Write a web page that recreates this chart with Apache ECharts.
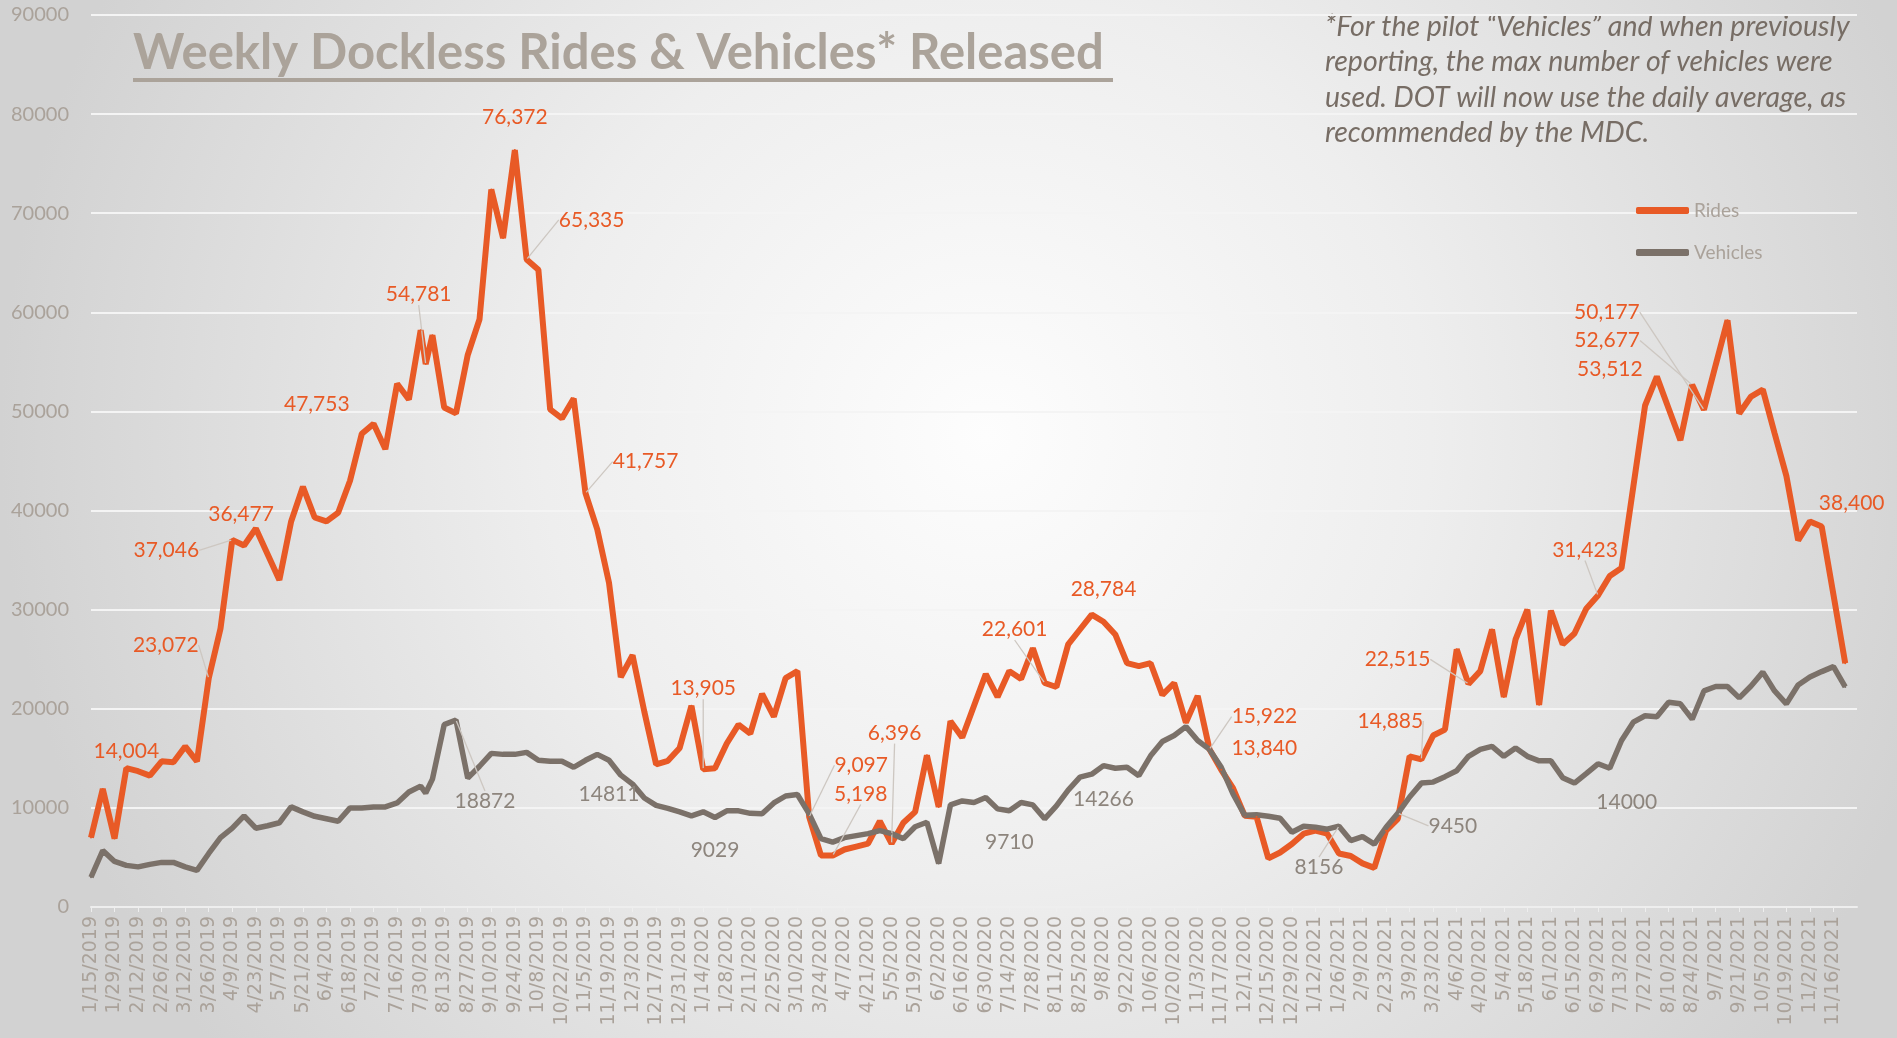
<!DOCTYPE html>
<html>
<head>
<meta charset="utf-8">
<script src="https://cdn.jsdelivr.net/npm/echarts@6/dist/echarts.min.js"></script>
<style>
  html, body { margin: 0; padding: 0; }
  #main { width: 1897px; height: 1038px; }
</style>
</head>
<body>
<div id="main"></div>
<script>
// weekly dates (plus one mid-week report on 8/2/2019)
var dates = [
  '1/15/2019','1/22/2019','1/29/2019','2/5/2019','2/12/2019','2/19/2019','2/26/2019','3/5/2019','3/12/2019','3/19/2019',
  '3/26/2019','4/2/2019','4/9/2019','4/16/2019','4/23/2019','4/30/2019','5/7/2019','5/14/2019','5/21/2019','5/28/2019',
  '6/4/2019','6/11/2019','6/18/2019','6/25/2019','7/2/2019','7/9/2019','7/16/2019','7/23/2019','7/30/2019','8/2/2019',
  '8/6/2019','8/13/2019','8/20/2019','8/27/2019','9/3/2019','9/10/2019','9/17/2019','9/24/2019','10/1/2019','10/8/2019',
  '10/15/2019','10/22/2019','10/29/2019','11/5/2019','11/12/2019','11/19/2019','11/26/2019','12/3/2019','12/10/2019','12/17/2019',
  '12/24/2019','12/31/2019',
  '1/7/2020','1/14/2020','1/21/2020','1/28/2020','2/4/2020','2/11/2020','2/18/2020','2/25/2020','3/3/2020','3/10/2020',
  '3/17/2020','3/24/2020','3/31/2020','4/7/2020','4/14/2020','4/21/2020','4/28/2020','5/5/2020','5/12/2020','5/19/2020',
  '5/26/2020','6/2/2020','6/9/2020','6/16/2020','6/23/2020','6/30/2020','7/7/2020','7/14/2020','7/21/2020','7/28/2020',
  '8/4/2020','8/11/2020','8/18/2020','8/25/2020','9/1/2020','9/8/2020','9/15/2020','9/22/2020','9/29/2020','10/6/2020',
  '10/13/2020','10/20/2020','10/27/2020','11/3/2020','11/10/2020','11/17/2020','11/24/2020','12/1/2020','12/8/2020','12/15/2020',
  '12/22/2020','12/29/2020',
  '1/5/2021','1/12/2021','1/19/2021','1/26/2021','2/2/2021','2/9/2021','2/16/2021','2/23/2021','3/2/2021','3/9/2021',
  '3/16/2021','3/23/2021','3/30/2021','4/6/2021','4/13/2021','4/20/2021','4/27/2021','5/4/2021','5/11/2021','5/18/2021',
  '5/25/2021','6/1/2021','6/8/2021','6/15/2021','6/22/2021','6/29/2021','7/6/2021','7/13/2021','7/20/2021','7/27/2021',
  '8/3/2021','8/10/2021','8/17/2021','8/24/2021','8/31/2021','9/7/2021','9/14/2021','9/21/2021','9/28/2021','10/5/2021',
  '10/12/2021','10/19/2021','10/26/2021','11/2/2021','11/9/2021','11/16/2021','11/23/2021'
];

var rides = [
  7000, 11900, 6900, 14004, 13700, 13250, 14700, 14600, 16200, 14700,
  23072, 28100, 37046, 36477, 38200, 35600, 33000, 38900, 42400, 39300,
  38900, 39800, 43000, 47753, 48750, 46200, 52800, 51200, 58200, 54781,
  57700, 50400, 49800, 55700, 59300, 72400, 67500, 76372, 65335, 64300,
  50200, 49300, 51300, 41757, 38100, 32700, 23200, 25400, 19700, 14400,
  14750, 16050,
  20300, 13905, 14000, 16500, 18400, 17500, 21500, 19200, 23100, 23800,
  9097, 5200, 5198, 5800, 6100, 6400, 8650, 6396, 8500, 9600,
  15300, 10100, 18750, 17100, 20300, 23500, 21200, 23800, 23000, 26100,
  22601, 22200, 26500, 28000, 29500, 28784, 27500, 24600, 24300, 24600,
  21400, 22600, 18600, 21300, 15922, 13840, 12000, 9200, 9100, 4900,
  5500, 6350,
  7400, 7700, 7400, 5400, 5150, 4400, 3950, 7700, 8900, 15200,
  14885, 17300, 17900, 26000, 22515, 23800, 28000, 21200, 27000, 30000,
  20400, 29900, 26500, 27600, 30100, 31423, 33400, 34200, 42400, 50600,
  53512, 50300, 47100, 52677, 50177, 54700, 59200, 49800, 51500, 52200,
  47800, 43500, 37000, 38900, 38400, 31500, 24600
];

var vehicles = [
  3000, 5700, 4600, 4200, 4050, 4300, 4500, 4500, 4050, 3700,
  5400, 7000, 7950, 9200, 7950, 8200, 8500, 10100, 9600, 9150,
  8900, 8650, 10000, 10000, 10100, 10100, 10500, 11600, 12200, 11500,
  12900, 18400, 18872, 13000, 14200, 15500, 15400, 15400, 15600, 14800,
  14700, 14700, 14100, 14800, 15400, 14811, 13300, 12400, 11000, 10250,
  9950, 9600,
  9200, 9600, 9029, 9700, 9700, 9450, 9400, 10500, 11200, 11350,
  9400, 6900, 6550, 7000, 7200, 7400, 7700, 7400, 6900, 8100,
  8550, 4400, 10300, 10700, 10550, 11050, 9900, 9710, 10550, 10300,
  8900, 10200, 11800, 13100, 13400, 14266, 14000, 14100, 13250, 15250,
  16700, 17300, 18200, 16800, 15900, 14100, 11400, 9250, 9300, 9150,
  8950, 7550,
  8150, 8050, 7850, 8156, 6700, 7100, 6350, 8050, 9450, 11100,
  12500, 12600, 13150, 13750, 15200, 15900, 16200, 15200, 16050, 15200,
  14750, 14750, 13050, 12500, 13450, 14450, 14000, 16800, 18650, 19300,
  19200, 20650, 20500, 18950, 21800, 22250, 22250, 21100, 22300, 23700,
  21800, 20500, 22400, 23200, 23750, 24250, 22200
];

var yTicks = [0, 10000, 20000, 30000, 40000, 50000, 60000, 70000, 80000, 90000];

var titleText = 'Weekly Dockless Rides & Vehicles* Released';
var noteLines = [
  '*For the pilot \u201CVehicles\u201D and when previously',
  'reporting, the max number of vehicles were',
  'used. DOT will now use the daily average, as',
  'recommended by the MDC.'
];

// labelled points: [dx, dy, leader line]
var ridesLabelPos = {
  '2/5/2019': [0, 0, 0], '3/26/2019': [-43, -17, 1], '4/9/2019': [-66, 27, 1], '4/16/2019': [-3, -15, 0],
  '6/25/2019': [-45, -13, 0], '8/2/2019': [-7, -53, 1], '9/24/2019': [0, -16, 0], '10/1/2019': [65, -23, 1],
  '11/5/2019': [60, -15, 1], '1/14/2020': [0, -64, 1], '3/17/2020': [52, -35, 1], '3/31/2020': [28, -45, 1],
  '5/5/2020': [3, -94, 1], '8/4/2020': [-30, -37, 1], '9/8/2020': [0, -16, 0], '11/10/2020': [55, -16, 1],
  '11/17/2020': [43, -5, 0], '3/16/2021': [-31, -22, 1], '4/13/2021': [-71, -8, 1], '6/29/2021': [-13, -29, 1],
  '8/3/2021': [-47, 9, 0], '8/24/2021': [-85, -28, 1], '8/31/2021': [-97, -81, 1], '11/9/2021': [30, -7, 0]
};
var vehLabelPos = {
  '8/20/2019': [29, 65, 1], '11/19/2019': [0, 18, 0], '1/21/2020': [0, 16, 0], '7/14/2020': [0, 15, 0],
  '9/8/2020': [0, 17, 0], '1/26/2021': [-20, 25, 1], '3/2/2021': [55, -4, 1], '7/6/2021': [17, 17, 0]
};

function dayNum(s) {
  var p = s.split('/');
  var q = dates[0].split('/');
  return Math.round((Date.UTC(+p[2], p[0] - 1, +p[1]) - Date.UTC(+q[2], q[0] - 1, +q[1])) / 86400000);
}

var dayToDate = {};
dates.forEach(function (d) { dayToDate[dayNum(d)] = d; });

var ORANGE = '#e85a26';
var GREY = '#7b7169';
var AXIS_TXT = '#aaa29a';

function buildData(values, posMap) {
  return values.map(function (v, i) {
    var item = { value: [dayNum(dates[i]), v] };
    var pos = posMap[dates[i]];
    if (pos) {
      item.label = { show: true };
      if (pos[2]) item.labelLine = { show: true };
    }
    return item;
  });
}

var myChart = echarts.init(document.getElementById('main'));

var option = {
  backgroundColor: {
    type: 'radial', x: 0.52, y: 0.42, r: 0.95,
    colorStops: [
      { offset: 0, color: '#fdfdfd' },
      { offset: 0.45, color: '#eeeeee' },
      { offset: 1, color: '#d2d2d2' }
    ]
  },
  textStyle: { fontFamily: 'Lato' },
  grid: { left: 91, right: 40, top: 15, bottom: 131 },
  legend: {
    orient: 'vertical',
    left: 1631,
    top: 196,
    icon: 'roundRect',
    itemWidth: 53,
    itemHeight: 7,
    itemGap: 23,
    textStyle: { color: AXIS_TXT, fontSize: 19, fontFamily: 'Lato' },
    data: ['Rides', 'Vehicles']
  },
  xAxis: {
    type: 'value',
    min: 0,
    max: 1050,
    interval: 14,
    axisLine: { show: true, lineStyle: { color: '#eeeeee', width: 2 } },
    axisTick: { show: true, length: 5, lineStyle: { color: '#eeeeee' } },
    splitLine: { show: false },
    axisLabel: {
      rotate: 90,
      color: AXIS_TXT,
      fontSize: 19,
      fontFamily: 'DejaVu Sans',
      margin: 9,
      showMaxLabel: false,
      formatter: function (v) { return dayToDate[v] || ''; }
    }
  },
  yAxis: {
    type: 'value',
    min: yTicks[0],
    max: yTicks[yTicks.length - 1],
    interval: yTicks[1] - yTicks[0],
    axisLine: { show: false },
    axisTick: { show: false },
    splitLine: { lineStyle: { color: '#f4f4f4', width: 2 } },
    axisLabel: {
      color: AXIS_TXT, fontSize: 20, fontFamily: 'Lato', margin: 22,
      formatter: function (v) { return String(v); }
    }
  },
  graphic: [
    {
      type: 'text', left: 133, top: 29,
      style: { text: titleText, font: 'bold 49px Lato', fill: '#aba39a' }
    },
    {
      type: 'rect', left: 133, top: 78,
      shape: { width: 980, height: 4 },
      style: { fill: '#aba39a' }
    },
    {
      type: 'text', left: 1325, top: 9,
      style: { text: noteLines.join('\n'), font: 'italic 28.5px Lato', lineHeight: 35.5, fill: '#776d65' }
    }
  ],
  series: [
    {
      name: 'Rides',
      type: 'line',
      data: buildData(rides, ridesLabelPos),
      symbol: 'circle',
      symbolSize: 2,
      showSymbol: true,
      itemStyle: { color: ORANGE },
      lineStyle: { color: ORANGE, width: 6 },
      label: {
        show: false, position: 'top', color: ORANGE, fontSize: 21, fontFamily: 'Lato',
        formatter: function (p) { return p.value[1].toLocaleString('en-US'); }
      },
      labelLine: { show: false, lineStyle: { color: '#cdc7c1', width: 1.3 } },
      labelLayout: function (p) {
        var o = ridesLabelPos[dates[p.dataIndex]];
        return o ? { dx: o[0], dy: o[1] } : {};
      },
      emphasis: { disabled: true },
      animation: false
    },
    {
      name: 'Vehicles',
      type: 'line',
      data: buildData(vehicles, vehLabelPos),
      symbol: 'circle',
      symbolSize: 2,
      showSymbol: true,
      itemStyle: { color: GREY },
      lineStyle: { color: GREY, width: 5.5 },
      label: {
        show: false, position: 'bottom', color: '#8d857d', fontSize: 21, fontFamily: 'Lato',
        formatter: function (p) { return String(p.value[1]); }
      },
      labelLine: { show: false, lineStyle: { color: '#cdc7c1', width: 1.3 } },
      labelLayout: function (p) {
        var o = vehLabelPos[dates[p.dataIndex]];
        return o ? { dx: o[0], dy: o[1] } : {};
      },
      emphasis: { disabled: true },
      animation: false
    }
  ]
};

myChart.setOption(option);
</script>
</body>
</html>
